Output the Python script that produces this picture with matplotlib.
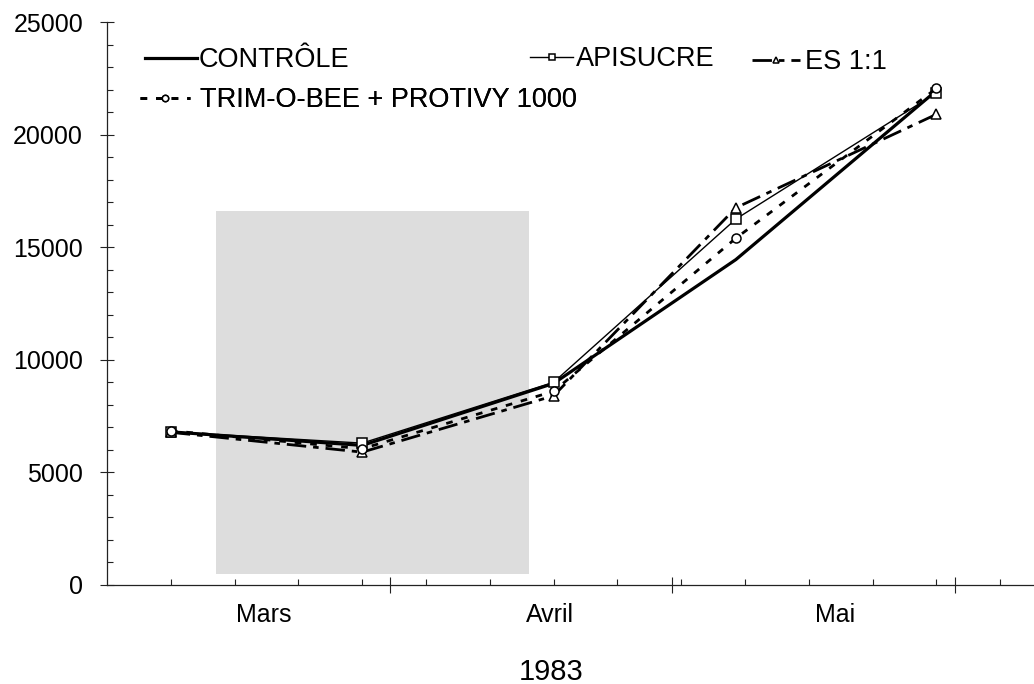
import numpy as np
import matplotlib
matplotlib.use('Agg')
import matplotlib.pyplot as plt
from matplotlib.patches import Rectangle

plt.rcParams['font.family'] = ['Liberation Sans', 'DejaVu Sans']

#Data (x in days from the axis origin)
days = [7, 28, 49, 69, 91]
controle = [6800, 6200, 8950, 14450, 21950]
apisucre = [6800, 6300, 9000, 16250, 21850]
es11 = [6780, 5900, 8400, 16750, 20900]
trim = [6850, 6050, 8600, 15400, 22050]

months = ['Mars', 'Avril', 'Mai']
month_pos = [17.2, 48.6, 79.9]
month_ticks = [31, 62, 93]
week_ticks = np.arange(7, 100, 7)
yticks = [0, 5000, 10000, 15000, 20000, 25000]
year = '1983'

#shaded period
shade_x = (12.0, 46.3)
shade_y = (500, 16600)

W, H = 1034, 684
fig = plt.figure(figsize=(W/100, H/100), dpi=100)
ax = fig.add_axes([107/W, 1-585/H, (W-107)/W, (585-22)/H])

ax.add_patch(Rectangle((shade_x[0], shade_y[0]), shade_x[1]-shade_x[0],
                       shade_y[1]-shade_y[0], facecolor='#dddddd',
                       edgecolor='none', zorder=0))

l1, = ax.plot(days, controle, color='black', lw=2.3, label='CONTRÔLE', zorder=3)
l2, = ax.plot(days, apisucre, color='black', lw=1.0, marker='s', ms=7,
              mfc='white', mec='black', mew=1.1, label='APISUCRE', zorder=4)
l3, = ax.plot(days, es11, color='black', lw=2.0, dashes=(7, 2.5, 2, 2.5),
              marker='^', ms=7, mfc='white', mec='black', mew=1.1,
              label='ES 1:1', zorder=4)
l4, = ax.plot(days, trim, color='black', lw=2.0, dashes=(2.4, 3.2),
              marker='o', ms=6.5, mfc='white', mec='black', mew=1.1,
              label='TRIM-O-BEE + PROTIVY 1000', zorder=4)

ax.set_xlim(0, (W-107)/9.114)
ax.set_ylim(0, 25000)

for s in ['top', 'right']:
    ax.spines[s].set_visible(False)
for s in ['left', 'bottom']:
    ax.spines[s].set_linewidth(0.9)
    ax.spines[s].set_color('#222222')

ax.set_yticks(yticks)
ax.set_yticks(np.arange(1000, 25000, 1000), minor=True)
ax.tick_params(axis='y', which='major', direction='inout', length=9.4,
               width=0.8, labelsize=18, pad=12.5, colors='#222222')
ax.tick_params(axis='y', which='minor', direction='in', length=4.3, width=0.8,
               colors='#222222')
ax.tick_params(axis='y', labelcolor='black')

ax.set_xticks(month_ticks)
ax.set_xticklabels([])
ax.set_xticks(week_ticks, minor=True)
ax.tick_params(axis='x', which='major', direction='inout', length=11.5,
               width=0.8, colors='#222222')
ax.tick_params(axis='x', which='minor', direction='in', length=4.3, width=0.8,
               colors='#222222')

for m, p in zip(months, month_pos):
    ax.annotate(m, (p, 0), xycoords=ax.get_xaxis_transform(),
                textcoords='offset points', xytext=(0, -26.5),
                ha='center', va='baseline', fontsize=18)

fig.text(551/W, 1-680/H, year, ha='center', va='baseline', fontsize=21)

#legend entries placed one by one (pixel anchor, handle length, text pad)
leg_fs = 19.5
leg_spec = [(l1, 145, 60, 1.92, 0.07), (l2, 530, 59, 1.59, 0.11),
            (l3, 752, 62, 1.77, 0.18), (l4, 140, 100, 1.85, 0.37)]
for h, px, py, hl, tp in leg_spec:
    lg = ax.legend([h], [h.get_label()], loc='center left',
                   bbox_to_anchor=(px/W, 1-py/H), bbox_transform=fig.transFigure,
                   frameon=False, fontsize=leg_fs, handlelength=hl,
                   handletextpad=tp, borderpad=0, borderaxespad=0,
                   markerscale=0.7)
    ax.add_artist(lg)

fig.savefig('out.png', dpi=100)
